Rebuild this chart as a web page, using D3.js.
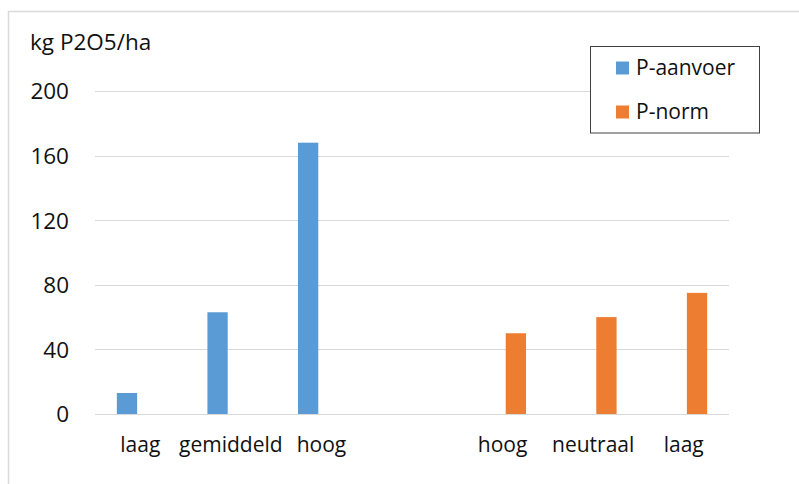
<!DOCTYPE html>
<html>
<head>
<meta charset="utf-8">
<script src="https://cdn.jsdelivr.net/npm/d3@7"></script>
<style>
  html, body { margin: 0; padding: 0; background: #fff; }
  svg { display: block; }
  text { font-family: "Open Sans", "Noto Sans", sans-serif; fill: #111; }
</style>
</head>
<body>
<svg id="chart" width="799" height="484"></svg>
<script>
// Categories along the x axis (the empty one separates the two groups)
const categories = ["laag", "gemiddeld", "hoog", "", "hoog", "neutraal", "laag"];
// Phosphate supply (kg P2O5/ha) per class
const aanvoer = [13, 63, 168, null, null, null, null];
// Phosphate norm (kg P2O5/ha) per class
const norm = [null, null, null, null, 50, 60, 75];
const seriesNames = ["P-aanvoer", "P-norm"];
const seriesColors = ["#5b9bd5", "#ed7d31"];
const yTicks = [0, 40, 80, 120, 160, 200];
const yTitle = "kg P2O5/ha";

const svg = d3.select("#chart");

// Outer chart frame
svg.append("rect")
  .attr("x", 8.5).attr("y", 11.5)
  .attr("width", 820).attr("height", 500)
  .attr("fill", "none")
  .attr("stroke", "#d9d9d9")
  .attr("stroke-width", 1.5);

const plot = { left: 95, right: 729, top: 91, bottom: 414 };

const x = d3.scaleBand()
  .domain(d3.range(categories.length))
  .range([plot.left, plot.right]);

const y = d3.scaleLinear()
  .domain([0, 200])
  .range([plot.bottom, plot.top]);

// Gridlines
svg.append("g")
  .selectAll("line")
  .data(yTicks)
  .join("line")
  .attr("x1", plot.left).attr("x2", plot.right)
  .attr("y1", d => Math.round(y(d)) + 0.5)
  .attr("y2", d => Math.round(y(d)) + 0.5)
  .attr("stroke", "#d9d9d9")
  .attr("stroke-width", 1);

// Y axis labels
const yAxis = d3.axisLeft(y).tickValues(yTicks).tickSize(0).tickPadding(0);
const yg = svg.append("g")
  .attr("transform", `translate(69,0)`)
  .call(yAxis);
yg.select(".domain").remove();
yg.selectAll("text")
  .attr("font-size", 22.5)
  .attr("dy", "0.35em")
  .style("font-family", "\"Open Sans\", sans-serif")
  .attr("fill", "#111");

// X axis labels
const xAxis = d3.axisBottom(x).tickSize(0).tickPadding(0)
  .tickFormat(i => categories[i]);
const xg = svg.append("g")
  .attr("transform", `translate(0,${plot.bottom})`)
  .call(xAxis);
xg.select(".domain").remove();
xg.selectAll("text")
  .attr("y", 37.5)
  .attr("dy", 0)
  .attr("font-size", 21)
  .style("font-family", "\"Open Sans\", sans-serif")
  .attr("fill", "#111");

// Bars: two slots per category
const barW = 20.3, slotGap = 6.3;
const seriesData = [aanvoer, norm];
seriesData.forEach((vals, s) => {
  const offset = s === 0 ? -slotGap / 2 - barW : slotGap / 2;
  svg.append("g")
    .selectAll("rect")
    .data(vals.map((v, i) => ({ v, i })).filter(d => d.v != null))
    .join("rect")
    .attr("x", d => x(d.i) + x.bandwidth() / 2 + offset)
    .attr("y", d => y(d.v))
    .attr("width", barW)
    .attr("height", d => y(0) - y(d.v))
    .attr("fill", seriesColors[s]);
});

// Y axis title
svg.append("text")
  .attr("x", 30).attr("y", 49.5)
  .attr("font-size", 22.5)
  .text(yTitle);

// Legend
const legend = svg.append("g");
legend.append("rect")
  .attr("x", 590.5).attr("y", 46.5)
  .attr("width", 169).attr("height", 86.5)
  .attr("fill", "#fff")
  .attr("stroke", "#404040")
  .attr("stroke-width", 1);
seriesNames.forEach((name, s) => {
  const cy = 68 + s * 44;
  legend.append("rect")
    .attr("x", 616).attr("y", cy - 6.5)
    .attr("width", 13).attr("height", 13)
    .attr("fill", seriesColors[s]);
  legend.append("text")
    .attr("x", 636).attr("y", cy)
    .attr("dy", "0.35em")
    .attr("font-size", 21)
    .text(name);
});
</script>
</body>
</html>
